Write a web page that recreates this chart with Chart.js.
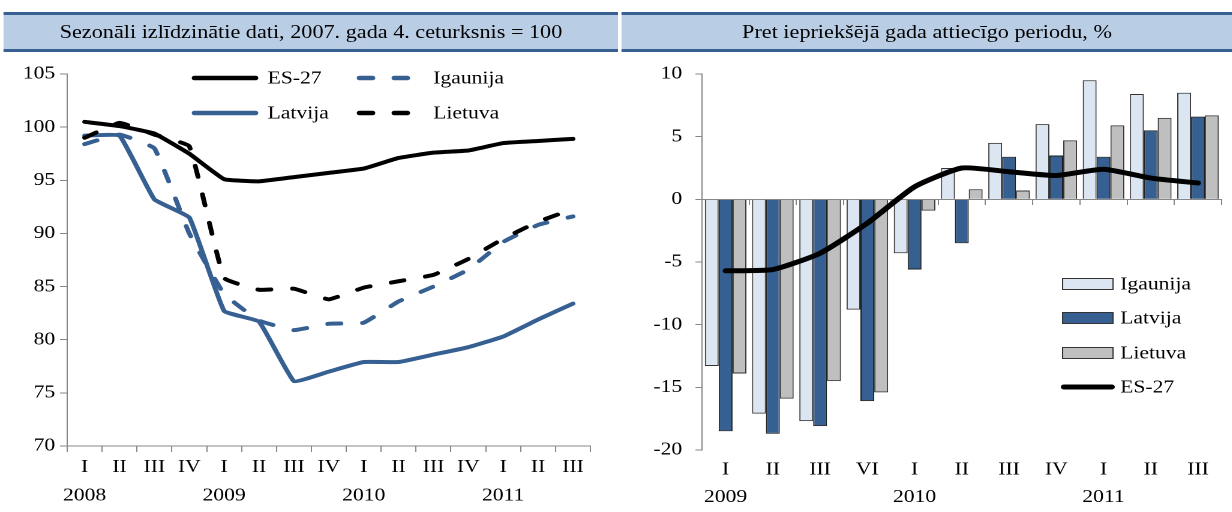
<!DOCTYPE html>
<html><head><meta charset="utf-8">
<script src="https://cdn.jsdelivr.net/npm/chart.js@4.4.1/dist/chart.umd.min.js"></script>
<style>
html,body{margin:0;padding:0;background:#fff;overflow:hidden;width:1232px;height:512px}
#wrap{position:absolute;left:0;top:0;width:1026.67px;height:512px;transform:scaleX(1.2);transform-origin:0 0}
.band{position:absolute;top:12px;height:34px;border-top:3px solid #376092;border-bottom:3px solid #376092;background:#b9cde5;font:18.5px "Liberation Serif","Times New Roman",serif;line-height:34px;text-align:center;color:#000;white-space:nowrap}
.box{position:absolute;top:52px;height:460px}
</style></head><body>
<div id="wrap">
<div class="band" style="left:3.33px;width:511.67px">Sezonāli izlīdzinātie dati, 2007. gada 4. ceturksnis = 100</div>
<div class="band" style="left:518.33px;width:508.34px">Pret iepriekšējā gada attiecīgo periodu, %</div>
<div class="box" style="left:0;width:516px"><canvas id="c1"></canvas></div>
<div class="box" style="left:516.67px;width:510px"><canvas id="c2"></canvas></div>
</div>
<script>
// ---------- data: left panel ----------
const leftQuarters = ['I','II','III','IV','I','II','III','IV','I','II','III','IV','I','II','III'];
const leftYears    = ['2008','','','','2009','','','','2010','','','','2011','',''];
const leftES27     = [100.5, 100.1, 99.4, 97.5, 95.1, 94.9, 95.3, 95.7, 96.1, 97.1, 97.6, 97.8, 98.5, 98.7, 98.9];
const leftLatvija  = [99.2, 99.2, 93.2, 91.5, 82.7, 81.7, 76.1, 77.0, 77.9, 77.9, 78.6, 79.3, 80.3, 81.9, 83.4];
const leftIgaunija = [98.4, 99.3, 98.0, 90.0, 84.3, 81.8, 80.9, 81.5, 81.6, 83.6, 85.0, 86.6, 89.2, 90.8, 91.6];
const leftLietuva  = [99.0, 100.4, 99.3, 98.2, 85.8, 84.7, 84.8, 83.8, 84.9, 85.5, 86.1, 87.6, 89.5, 91.1, 92.3];
const leftTicks    = {min: 70, max: 105, step: 5};

// ---------- data: right panel ----------
const rightQuarters = ['I','II','III','VI','I','II','III','IV','I','II','III'];
const rightYears    = ['2009','','','','2010','','','','2011','',''];
const rightIgaunija = [-13.3, -17.1, -17.7, -8.8, -4.3, 2.5, 4.5, 6.0, 9.5, 8.4, 8.5];
const rightLatvija  = [-18.5, -18.7, -18.1, -16.1, -5.6, -3.5, 3.4, 3.5, 3.4, 5.5, 6.6];
const rightLietuva  = [-13.9, -15.9, -14.5, -15.4, -0.9, 0.8, 0.7, 4.7, 5.9, 6.5, 6.7];
const rightES27     = [-5.7, -5.6, -4.3, -1.9, 1.0, 2.5, 2.2, 1.9, 2.4, 1.7, 1.3];
const rightTicks    = {min: -20, max: 10, step: 5};

// ---------- styles ----------
const FONT = '"Liberation Serif","Times New Roman",serif';
const BLUE = '#376092';
const AXIS = '#868686';
const DASH = [11, 18];

function lineLegend(items) {
  return {
    id: 'lineLegend',
    afterDraw(chart) {
      const ctx = chart.ctx;
      ctx.save();
      items.forEach(it => {
        ctx.beginPath();
        ctx.lineWidth = 4.5;
        ctx.lineCap = 'round';
        ctx.strokeStyle = it.color;
        ctx.setLineDash(it.dash ? DASH : []);
        ctx.moveTo(it.x1, it.y);
        ctx.lineTo(it.x2, it.y);
        ctx.stroke();
        ctx.setLineDash([]);
        ctx.fillStyle = '#000';
        ctx.font = '18px ' + FONT;
        ctx.textBaseline = 'middle';
        ctx.textAlign = 'left';
        ctx.fillText(it.label, it.tx, it.y + 1);
      });
      ctx.restore();
    }
  };
}

function barLegend(items) {
  return {
    id: 'barLegend',
    afterDraw(chart) {
      const ctx = chart.ctx;
      ctx.save();
      items.forEach(it => {
        if (it.kind === 'box') {
          ctx.fillStyle = it.color;
          ctx.fillRect(368, it.y - 6, 43, 12);
          ctx.strokeStyle = '#333';
          ctx.lineWidth = 1;
          ctx.strokeRect(368.5, it.y - 5.5, 42, 11);
        } else {
          ctx.beginPath();
          ctx.lineWidth = 5;
          ctx.lineCap = 'round';
          ctx.strokeStyle = '#000';
          ctx.moveTo(369.5, it.y);
          ctx.lineTo(409.5, it.y);
          ctx.stroke();
        }
        ctx.fillStyle = '#000';
        ctx.font = '18px ' + FONT;
        ctx.textBaseline = 'middle';
        ctx.textAlign = 'left';
        ctx.fillText(it.label, 416.5, it.y + 1);
      });
      ctx.restore();
    }
  };
}

const tickFont = {family: FONT, size: 18};

// ---------- left chart ----------
new Chart(document.getElementById('c1'), {
  type: 'line',
  data: {
    labels: leftQuarters.map((q, i) => [q, leftYears[i]]),
    datasets: [
      {label: 'ES-27', data: leftES27, borderColor: '#000', borderWidth: 4, order: 2},
      {label: 'Latvija', data: leftLatvija, borderColor: BLUE, borderWidth: 4, order: 3},
      {label: 'Igaunija', data: leftIgaunija, borderColor: BLUE, borderWidth: 4, borderDash: DASH, order: 1},
      {label: 'Lietuva', data: leftLietuva, borderColor: '#000', borderWidth: 4, borderDash: DASH, order: 0}
    ]
  },
  options: {
    responsive: true, maintainAspectRatio: false, devicePixelRatio: 2, animation: false,
    layout: {padding: {top: 22, right: 24, left: 0, bottom: 0}},
    elements: {point: {radius: 0}, line: {tension: 0.1, borderCapStyle: 'round', borderJoinStyle: 'round', fill: false}},
    plugins: {legend: {display: false}, tooltip: {enabled: false}},
    scales: {
      x: {
        offset: true,
        grid: {offset: true, drawOnChartArea: false, drawTicks: true, tickLength: 6, color: AXIS},
        border: {color: AXIS},
        ticks: {autoSkip: false, maxRotation: 0, color: '#000', font: {family: FONT, size: 18, lineHeight: 1.58}, padding: 1},
        afterFit: s => { s.height = 66; }
      },
      y: {
        min: leftTicks.min, max: leftTicks.max,
        ticks: {stepSize: leftTicks.step, color: '#000', font: tickFont, padding: 4},
        grid: {drawOnChartArea: false, tickLength: 6, color: AXIS},
        border: {color: AXIS},
        afterFit: s => { s.width = 56; }
      }
    }
  },
  plugins: [lineLegend([
    {label: 'ES-27', color: '#000', dash: false, x1: 162, x2: 213, y: 26, tx: 223},
    {label: 'Igaunija', color: BLUE, dash: true, x1: 299.5, x2: 340, y: 26, tx: 361},
    {label: 'Latvija', color: BLUE, dash: false, x1: 162, x2: 213, y: 61, tx: 223},
    {label: 'Lietuva', color: '#000', dash: true, x1: 299.5, x2: 340, y: 61, tx: 361}
  ])]
});

// ---------- right chart ----------
new Chart(document.getElementById('c2'), {
  type: 'bar',
  data: {
    labels: rightQuarters,
    datasets: [
      {type: 'line', label: 'ES-27', data: rightES27, borderColor: '#000', borderWidth: 5, pointRadius: 0,
       tension: 0.18, borderCapStyle: 'round', borderJoinStyle: 'round', fill: false, order: 0},
      {label: 'Igaunija', data: rightIgaunija, backgroundColor: '#dce6f2', borderColor: '#333', borderWidth: 1, order: 1},
      {label: 'Latvija', data: rightLatvija, backgroundColor: BLUE, borderColor: '#1c1c1c', borderWidth: 1, order: 1},
      {label: 'Lietuva', data: rightLietuva, backgroundColor: '#bfbfbf', borderColor: '#333', borderWidth: 1, order: 1}
    ]
  },
  options: {
    responsive: true, maintainAspectRatio: false, devicePixelRatio: 2, animation: false,
    layout: {padding: {top: 22, right: 9, left: 0, bottom: 0}},
    datasets: {bar: {categoryPercentage: 0.88, barPercentage: 1}},
    plugins: {legend: {display: false}, tooltip: {enabled: false}},
    scales: {
      x: {
        axis: 'x', position: {y: 0}, offset: true,
        grid: {offset: true, drawOnChartArea: false, drawTicks: true, tickLength: 5, color: AXIS},
        border: {color: AXIS},
        ticks: {display: false}
      },
      x2: {
        axis: 'x', type: 'category', position: 'bottom', offset: true,
        labels: rightQuarters.map((q, i) => [q, rightYears[i]]),
        grid: {display: false, drawTicks: false},
        border: {display: false},
        ticks: {autoSkip: false, maxRotation: 0, color: '#000', font: {family: FONT, size: 18, lineHeight: 1.52}, padding: 6},
        afterFit: s => { s.height = 62; }
      },
      y: {
        min: rightTicks.min, max: rightTicks.max,
        ticks: {stepSize: rightTicks.step, color: '#000', font: tickFont, padding: 11},
        grid: {drawOnChartArea: false, tickLength: 5.5, color: AXIS},
        border: {color: AXIS},
        afterFit: s => { s.width = 68; }
      }
    }
  },
  plugins: [barLegend([
    {kind: 'box', label: 'Igaunija', color: '#dce6f2', y: 232},
    {kind: 'box', label: 'Latvija', color: BLUE, y: 266},
    {kind: 'box', label: 'Lietuva', color: '#bfbfbf', y: 301},
    {kind: 'line', label: 'ES-27', y: 335}
  ])]
});
</script>
</body></html>
